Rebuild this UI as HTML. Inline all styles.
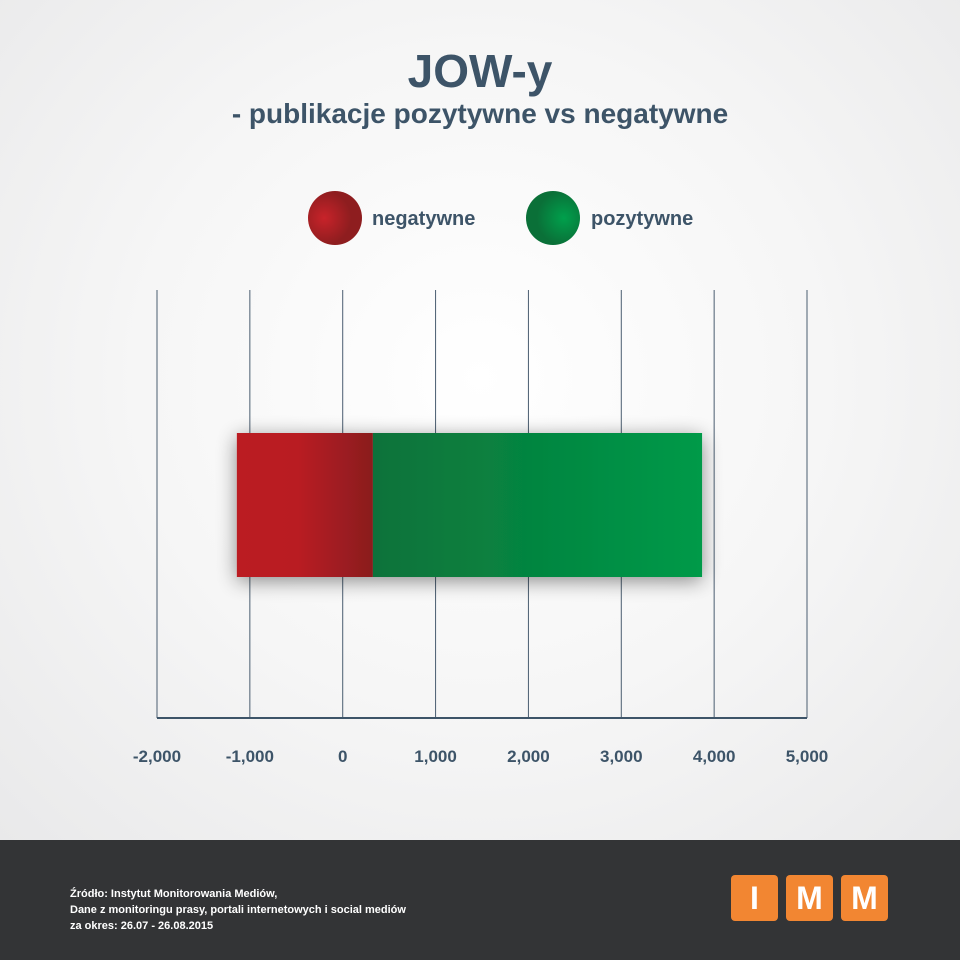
<!DOCTYPE html>
<html><head><meta charset="utf-8"><style>
body{margin:0;width:960px;height:960px;overflow:hidden;font-family:"Liberation Sans",sans-serif;}
#bg{position:absolute;left:0;top:0;width:960px;height:840px;background:radial-gradient(ellipse at 50% 45%,#ffffff 0%,#f6f6f6 50%,#e9e9ea 100%);}
#footer{position:absolute;left:0;top:840px;width:960px;height:120px;background:#333436;}
.t{position:absolute;width:960px;text-align:center;color:#3d5468;font-weight:bold;}
.logo{position:absolute;top:875px;width:47px;height:46px;background:#f28632;border-radius:4px;color:#fff;font-weight:bold;font-size:32px;text-align:center;line-height:46px;}
</style></head><body>
<div id="bg"></div>
<div class="t" style="top:44px;font-size:46px">JOW-y</div>
<div class="t" style="top:98px;font-size:28px">- publikacje pozytywne vs negatywne</div>
<svg id="chart" width="960" height="840" style="position:absolute;left:0;top:0">
<defs>
<linearGradient id="gr" x1="0" x2="1"><stop offset="0" stop-color="#bb1f24"/><stop offset="0.45" stop-color="#b91f24"/><stop offset="1" stop-color="#8a1f1e"/></linearGradient>
<linearGradient id="gg" x1="0" x2="1"><stop offset="0" stop-color="#0b723a"/><stop offset="1" stop-color="#009a48"/></linearGradient>
<radialGradient id="cr" cx="0.3" cy="0.5"><stop offset="0" stop-color="#c8232a"/><stop offset="1" stop-color="#8e1d1f"/></radialGradient>
<radialGradient id="cg" cx="0.7" cy="0.5"><stop offset="0" stop-color="#00a04c"/><stop offset="1" stop-color="#0a7038"/></radialGradient>
<filter id="sh" x="-20%" y="-40%" width="140%" height="180%"><feGaussianBlur in="SourceAlpha" stdDeviation="10"/><feOffset dy="4"/><feComponentTransfer><feFuncA type="linear" slope="0.45"/></feComponentTransfer><feMerge><feMergeNode/><feMergeNode in="SourceGraphic"/></feMerge></filter>
</defs>
<g id="grid"></g><g id="bars"></g><g id="labels"></g>
<circle cx="335" cy="218" r="27" fill="url(#cr)"/>
<text x="372" y="225" font-size="20" font-weight="bold" fill="#3d5468">negatywne</text>
<circle cx="553" cy="218" r="27" fill="url(#cg)"/>
<text x="591" y="225" font-size="20" font-weight="bold" fill="#3d5468">pozytywne</text>
</svg>
<div id="footer"></div>
<div style="position:absolute;left:70px;top:886px;color:#fff;font-size:11px;line-height:16px;font-weight:bold">Źródło: Instytut Monitorowania Mediów,<br>Dane z monitoringu prasy, portali internetowych i social mediów<br>za okres: 26.07 - 26.08.2015</div>
<div class="logo" style="left:731px">I</div>
<div class="logo" style="left:786px">M</div>
<div class="logo" style="left:841px">M</div>
<script>
const ticks=[-2000,-1000,0,1000,2000,3000,4000,5000];
const tickLabels=["-2,000","-1,000","0","1,000","2,000","3,000","4,000","5,000"];
const series=["negatywne","pozytywne"];
const barStart=[-1140];
const negValues=[1465];
const posValues=[3545];
const NS="http://www.w3.org/2000/svg";
const x0=157,x1=807,dMin=-2000,dMax=5000;
const xs=v=>x0+(v-dMin)/(dMax-dMin)*(x1-x0);
const g=document.getElementById('grid'),lb=document.getElementById('labels'),b=document.getElementById('bars');
ticks.forEach((t,i)=>{
const l=document.createElementNS(NS,'line');
l.setAttribute('x1',xs(t));l.setAttribute('x2',xs(t));l.setAttribute('y1',290);l.setAttribute('y2',718);
l.setAttribute('stroke','#4a5d70');l.setAttribute('stroke-width',1);


g.appendChild(l);
const tx=document.createElementNS(NS,'text');
tx.setAttribute('x',xs(t));tx.setAttribute('y',762);tx.setAttribute('text-anchor','middle');
tx.setAttribute('font-size',17);tx.setAttribute('font-weight','bold');tx.setAttribute('fill','#3d5468');
tx.textContent=tickLabels[i];


lb.appendChild(tx);
});
const ax=document.createElementNS(NS,'line');
ax.setAttribute('x1',x0);ax.setAttribute('x2',x1);ax.setAttribute('y1',718);ax.setAttribute('y2',718);
ax.setAttribute('stroke','#3d5468');ax.setAttribute('stroke-width',2);


g.appendChild(ax);
const grp=document.createElementNS(NS,'g');grp.setAttribute('filter','url(#sh)');b.appendChild(grp);
barStart.forEach((s,i)=>{
const a=s,m=s+negValues[i],e=m+posValues[i];
const r1=document.createElementNS(NS,'rect');
r1.setAttribute('x',xs(a));r1.setAttribute('y',433);r1.setAttribute('width',xs(m)-xs(a));r1.setAttribute('height',144);r1.setAttribute('fill','url(#gr)');


grp.appendChild(r1);
const r2=document.createElementNS(NS,'rect');
r2.setAttribute('x',xs(m));r2.setAttribute('y',433);r2.setAttribute('width',xs(e)-xs(m));r2.setAttribute('height',144);r2.setAttribute('fill','url(#gg)');


grp.appendChild(r2);
});
</script>
</body></html>
